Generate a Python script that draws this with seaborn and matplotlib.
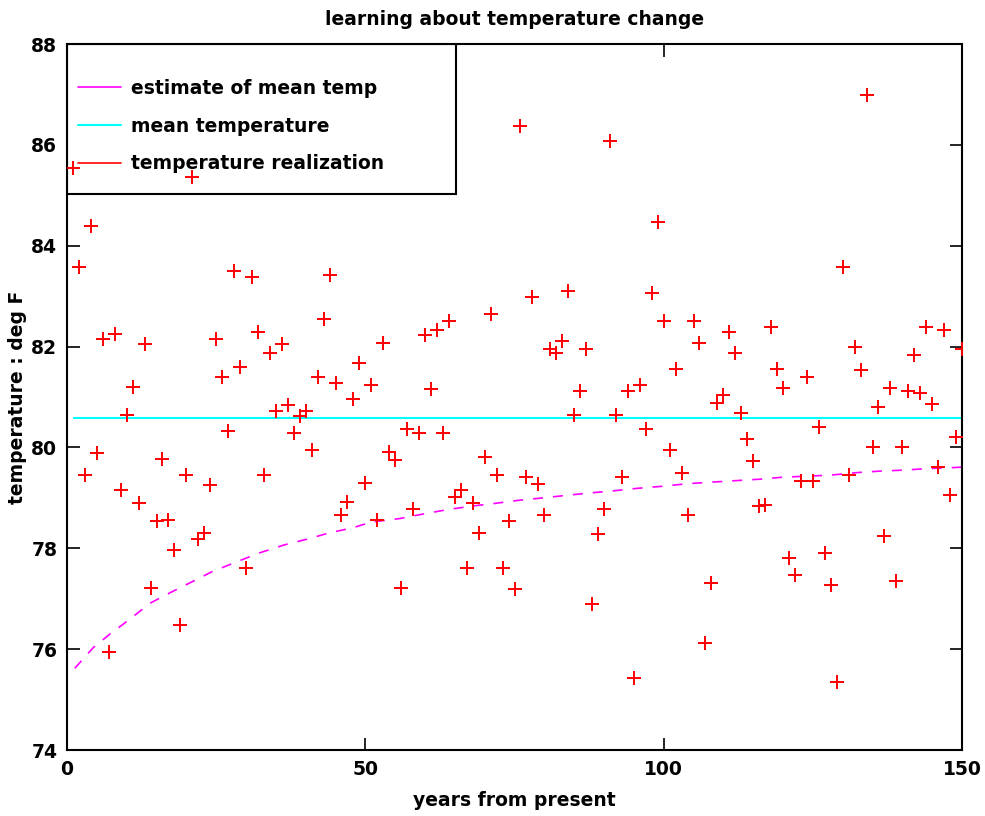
import matplotlib
matplotlib.use("Agg")
import matplotlib.pyplot as plt
import seaborn as sns
import pandas as pd
from matplotlib.lines import Line2D
from matplotlib.patches import Rectangle

# temperature realization for each year (deg F)
years = list(range(1, 151))
temps = [
    85.55, 83.58, 79.45, 84.39, 79.89, 82.15, 75.94, 82.24, 79.15, 80.65,
    81.19, 78.89, 82.06, 77.21, 78.55, 79.78, 78.57, 77.96, 76.48, 79.45,
    85.37, 78.18, 78.30, 79.25, 82.15, 81.39, 80.33, 83.50, 81.60, 77.60,
    83.38, 82.28, 79.45, 81.87, 80.73, 82.05, 80.85, 80.28, 80.62, 80.73,
    79.94, 81.39, 82.55, 83.41, 81.27, 78.66, 78.91, 80.97, 81.67, 79.30,
    81.24, 78.57, 82.08, 79.91, 79.76, 77.21, 80.37, 78.78, 80.28, 82.23,
    81.16, 82.32, 80.28, 82.51, 79.01, 79.15, 77.60, 78.89, 78.30, 79.82,
    82.64, 79.45, 77.60, 78.55, 77.19, 86.37, 79.42, 82.98, 79.27, 78.66,
    81.96, 81.87, 82.12, 83.10, 80.65, 81.12, 81.96, 76.89, 78.28, 78.78,
    86.08, 80.65, 79.42, 81.12, 75.42, 81.24, 80.37, 83.07, 84.48, 82.51,
    79.94, 81.55, 79.50, 78.66, 82.51, 82.08, 76.12, 77.32, 80.89, 81.03,
    82.28, 81.88, 80.69, 80.16, 79.74, 78.83, 78.86, 82.38, 81.55, 81.17,
    77.80, 77.48, 79.34, 81.39, 79.34, 80.41, 77.91, 77.28, 75.34, 83.58,
    79.45, 82.00, 81.53, 86.99, 80.01, 80.80, 78.24, 81.17, 77.35, 80.01,
    81.12, 81.83, 81.08, 82.39, 80.87, 79.62, 82.32, 79.05, 80.21, 81.96,
]

# estimate of mean temp, sampled along the dashed curve
est_years = [1.3, 4.4, 7.2, 10.6, 13.9, 17.3, 21.2, 24.2, 28.4, 32.3, 36.5,
             40.2, 43.8, 48.0, 51.0, 55.8, 59.7, 63.9, 68.1, 71.7, 75.6,
             79.8, 83.7, 87.9, 91.6, 95.7, 99.8, 103.9, 107.8, 111.9, 116.1,
             120.0, 127.9, 132.3, 136.2, 140.2, 144.1, 148.5, 150.0]
est_temps = [75.62, 76.03, 76.30, 76.60, 76.91, 77.12, 77.35, 77.53, 77.73,
             77.91, 78.07, 78.18, 78.30, 78.41, 78.52, 78.59, 78.68, 78.77,
             78.84, 78.89, 78.95, 79.00, 79.05, 79.10, 79.14, 79.19, 79.23,
             79.28, 79.31, 79.34, 79.37, 79.41, 79.45, 79.50, 79.53, 79.55,
             79.58, 79.60, 79.61]

mean_temp = 80.58

sns.set_style("ticks")
plt.rcParams['font.family'] = ['DejaVu Sans']
plt.rcParams['font.weight'] = 'bold'
plt.rcParams['text.color'] = 'black'
plt.rcParams['axes.labelcolor'] = 'black'
plt.rcParams['xtick.color'] = 'black'
plt.rcParams['ytick.color'] = 'black'
FS = 13.5

fig = plt.figure(figsize=(9.85, 8.16), dpi=100)
ax = fig.add_axes([67 / 985, 1 - 750 / 816, 895 / 985, 706 / 816])

real = pd.DataFrame({"year": years, "temp": temps})
est = pd.DataFrame({"year": est_years, "temp": est_temps})

sns.lineplot(data=est, x="year", y="temp", color="magenta", lw=1.2,
             dashes=False, linestyle=(0, (6, 6)), ax=ax, zorder=1)
ax.hlines(mean_temp, 1, 150, color="cyan", lw=1.5, zorder=1)
sns.scatterplot(data=real, x="year", y="temp", marker="+", color="red",
                s=110, linewidth=1.4, ax=ax, zorder=4)

ax.set_xlim(0, 150)
ax.set_ylim(74, 88)
ax.set_xticks([0, 50, 100, 150])
ax.set_yticks(range(74, 89, 2))
ax.tick_params(direction="in", top=True, right=True, length=9, width=1.2,
               labelsize=FS, pad=7)
for lab in ax.get_xticklabels() + ax.get_yticklabels():
    lab.set_fontweight("bold")
for sp in ax.spines.values():
    sp.set_linewidth(1.5)
    sp.set_color("black")

ax.set_title("learning about temperature change", fontsize=FS,
             fontweight="bold", pad=14)
ax.set_xlabel("years from present", fontsize=FS, fontweight="bold", labelpad=9)
ax.set_ylabel("temperature : deg F", fontsize=FS, fontweight="bold", labelpad=3)

# legend box (drawn under the realization markers, as in the original)
box = Rectangle((0, 1 - 150 / 706), 389 / 895, 150 / 706, transform=ax.transAxes,
                facecolor="white", edgecolor="black", lw=1.5, zorder=2)
ax.add_patch(box)

handles = [Line2D([], [], color="magenta", lw=1.2),
           Line2D([], [], color="cyan", lw=1.5),
           Line2D([], [], color="red", lw=1.2)]
labels = ["estimate of mean temp", "mean temperature", "temperature realization"]
leg = ax.legend(handles, labels, loc="upper left",
                bbox_to_anchor=(11 / 895, 1 - 35 / 706), borderaxespad=0,
                frameon=False, fontsize=FS, handlelength=2.3,
                handletextpad=0.55, borderpad=0, labelspacing=1.0)
leg.set_zorder(3)
for t in leg.get_texts():
    t.set_fontweight("bold")
    t.set_color("black")

fig.savefig("out.png", dpi=100)
